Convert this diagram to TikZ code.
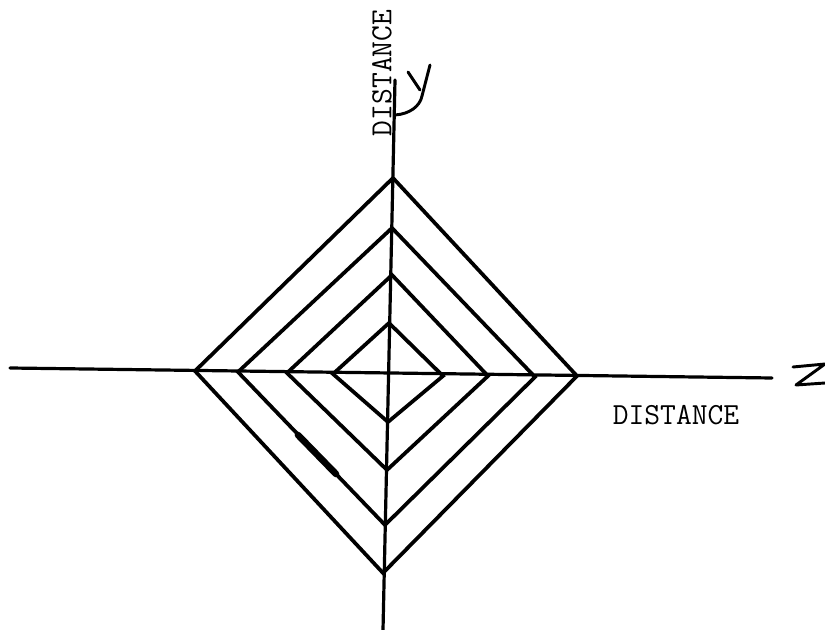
\documentclass[tikz,border=0pt]{standalone}
\usepackage{tikz}

\tikzset{
  axisline/.style={line width=2.4pt, line cap=round},
  ringline/.style={line width=2.8pt, line join=miter},
  handline/.style={line width=2.2pt, line cap=round, line join=round},
  axislabel/.style={font=\fontsize{23}{23}\selectfont\ttfamily, inner sep=0pt}
}

\begin{document}
\begin{tikzpicture}[x=0.75pt,y=0.75pt,yscale=-1,xscale=1]
\useasboundingbox (0,0) rectangle (825,630);

%Axes end points
\coordinate (zleft) at (10,368);
\coordinate (zright) at (772,378);
\coordinate (ytop) at (395,80);
\coordinate (ybottom) at (383,630);

%Straight Lines (axes)
\draw [axisline] (zleft) -- (zright);
\draw [axisline] (ytop) -- (ybottom);

%Shape: Diamond, outer
\draw [ringline] (393,178) -- (577,376) -- (383,573) -- (195,371) -- cycle;
%Shape: Diamond, second
\draw [ringline] (392,228) -- (535,377) -- (385,525) -- (238,372) -- cycle;
%Shape: Diamond, third
\draw [ringline] (392,275) -- (488,376) -- (387,470) -- (287,373) -- cycle;
%Shape: Diamond, inner
\draw [ringline] (389,323) -- (443,376) -- (388,422) -- (333,374) -- cycle;

%heavy stroke on the second diamond
\draw [line width=5pt, line cap=round] (298,435) -- (336,474);

%Hand-drawn Y
\draw [handline] (395,115) .. controls (410,114) and (420,106) .. (422,96) -- (430,65);
\draw [handline] (408,72) -- (420,90);

%Hand-drawn Z
\draw [handline] (793,367) -- (825,364) -- (796,385) -- (825,383);

% Text Node
\node [axislabel, rotate=90] (ylabel) at (382,73) {DISTANCE};
% Text Node
\node [axislabel] (zlabel) at (676,415) {DISTANCE};

\end{tikzpicture}
\end{document}
